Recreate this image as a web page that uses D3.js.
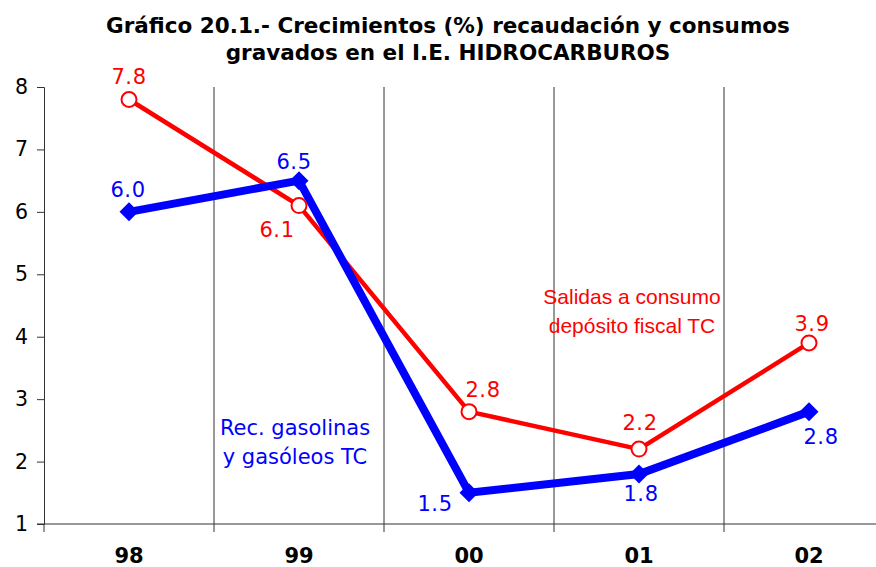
<!DOCTYPE html>
<html>
<head>
<meta charset="utf-8">
<script src="https://cdn.jsdelivr.net/npm/d3@7"></script>
<style>
  html, body { margin: 0; padding: 0; background: #fff; }
  svg { display: block; }
</style>
</head>
<body>
<svg id="chart" width="876" height="567"></svg>
<script>
// Chart data
const years = ["98", "99", "00", "01", "02"];
const salidasConsumo = [7.8, 6.1, 2.8, 2.2, 3.9];   // red series
const recGasolinas = [6.0, 6.5, 1.5, 1.8, 2.8];     // blue series
const yTicks = [1, 2, 3, 4, 5, 6, 7, 8];
const titleLines = [
  "Gráfico 20.1.- Crecimientos (%) recaudación y consumos",
  "gravados en el I.E. HIDROCARBUROS"
];
const redNote = ["Salidas a consumo", "depósito fiscal TC"];
const blueNote = ["Rec. gasolinas", "y gasóleos TC"];

// Value-label placement relative to each point (text centre)
const redLabelOffsets = [[0, -23], [-22, 24], [14, -22], [1, -27], [3, -20]];
const blueLabelOffsets = [[-1, -22], [-5, -19], [-34, 11], [2, 19], [12, 25]];

const RED = "#ff0000", BLUE = "#0000ff";
const FONT = "'DejaVu Sans', Verdana, sans-serif";
const ARIAL = "'Liberation Sans', Arial, sans-serif";

const svg = d3.select("#chart");
const plotLeft = 44, plotTop = 87, plotBottom = 524, bandW = 170;

const x = d3.scaleBand().domain(years).range([plotLeft, plotLeft + bandW * years.length]).padding(0);
const y = d3.scaleLinear().domain([1, 8]).range([plotBottom, plotTop]);
const cx = d => x(d) + x.bandwidth() / 2;

// Title
svg.append("g").selectAll("text").data(titleLines).join("text")
  .attr("x", 448).attr("y", (d, i) => 33 + i * 27)
  .attr("text-anchor", "middle")
  .attr("font-family", FONT).attr("font-weight", "bold").attr("font-size", 21.5)
  .attr("fill", "#000").text(d => d);

// Vertical separators between categories
svg.append("g").selectAll("line").data(years.slice(1)).join("line")
  .attr("x1", d => x(d)).attr("x2", d => x(d))
  .attr("y1", plotTop).attr("y2", plotBottom + 8)
  .attr("stroke", "#333").attr("stroke-width", 1);

// Y axis
const yAxis = svg.append("g").attr("transform", `translate(${plotLeft},0)`)
  .call(d3.axisLeft(y).tickValues(yTicks).tickSize(7).tickPadding(9).tickFormat(d3.format("d")));
yAxis.select(".domain").attr("stroke", "#333");
yAxis.selectAll(".tick line").attr("stroke", "#333");
yAxis.selectAll(".tick text").attr("font-family", FONT).attr("font-size", 20.5).attr("fill", "#000");

// X axis baseline and category ticks
svg.append("line").attr("x1", plotLeft - 7).attr("x2", 876)
  .attr("y1", plotBottom).attr("y2", plotBottom).attr("stroke", "#333");
svg.append("line").attr("x1", plotLeft).attr("x2", plotLeft)
  .attr("y1", plotBottom).attr("y2", plotBottom + 8).attr("stroke", "#333");
svg.append("g").selectAll("text").data(years).join("text")
  .attr("x", d => cx(d)).attr("y", 563)
  .attr("text-anchor", "middle")
  .attr("font-family", FONT).attr("font-weight", "bold").attr("font-size", 21)
  .attr("fill", "#000").text(d => d);

const line = d3.line().x((d, i) => cx(years[i])).y(d => y(d));

// Red series
svg.append("path").datum(salidasConsumo).attr("d", line)
  .attr("fill", "none").attr("stroke", RED).attr("stroke-width", 4.5).attr("stroke-linejoin", "round");

// Blue series
svg.append("path").datum(recGasolinas).attr("d", line)
  .attr("fill", "none").attr("stroke", BLUE).attr("stroke-width", 8).attr("stroke-linejoin", "miter");

// Blue diamond markers
svg.append("g").selectAll("path").data(recGasolinas).join("path")
  .attr("transform", (d, i) => `translate(${cx(years[i])},${y(d)})`)
  .attr("d", "M0,-9.5L9.5,0L0,9.5L-9.5,0Z").attr("fill", BLUE);

// Red open-circle markers
svg.append("g").selectAll("circle").data(salidasConsumo).join("circle")
  .attr("cx", (d, i) => cx(years[i])).attr("cy", d => y(d)).attr("r", 7.5)
  .attr("fill", "#fff").attr("stroke", RED).attr("stroke-width", 2);

// Value labels
function valueLabels(values, offsets, color) {
  svg.append("g").selectAll("text").data(values).join("text")
    .attr("x", (d, i) => cx(years[i]) + offsets[i][0])
    .attr("y", (d, i) => y(d) + offsets[i][1])
    .attr("dy", "0.36em")
    .attr("text-anchor", "middle")
    .attr("font-family", FONT).attr("font-size", 21).attr("letter-spacing", 0.6)
    .attr("fill", color)
    .text(d => d3.format(".1f")(d));
}
valueLabels(salidasConsumo, redLabelOffsets, RED);
valueLabels(recGasolinas, blueLabelOffsets, BLUE);

// Series annotations
function note(lines, xc, y0, color, family, size) {
  svg.append("g").selectAll("text").data(lines).join("text")
    .attr("x", xc).attr("y", (d, i) => y0 + i * 29)
    .attr("text-anchor", "middle")
    .attr("font-family", family).attr("font-size", size).attr("fill", color)
    .text(d => d);
}
note(redNote, 632, 304, RED, ARIAL, 21);
note(blueNote, 295, 435, BLUE, FONT, 21);
</script>
</body>
</html>
